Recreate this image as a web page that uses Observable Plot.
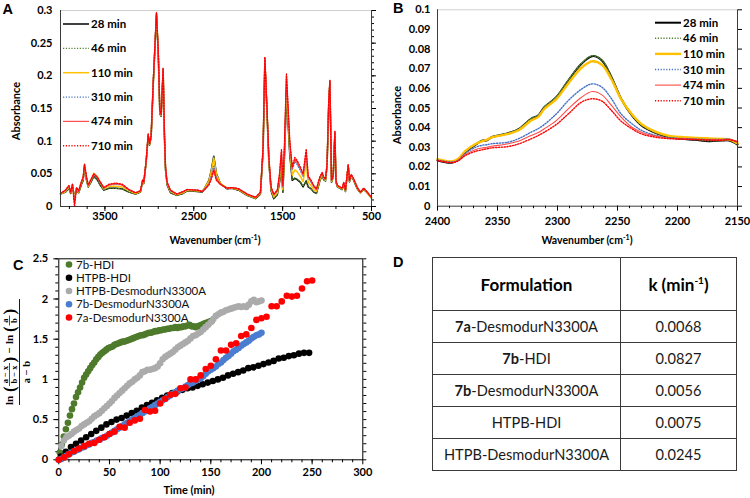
<!DOCTYPE html>
<html>
<head>
<meta charset="utf-8">
<script src="https://cdn.jsdelivr.net/npm/d3@7"></script>
<script src="https://cdn.jsdelivr.net/npm/@observablehq/plot@0.6"></script>
<style>
  body { margin: 0; background: #fff; }
  #fig { position: relative; width: 750px; height: 498px; overflow: hidden; background: #fff; font-family: Lato, sans-serif; }
  .ktab { position: absolute; left: 432px; top: 257px; width: 305px; table-layout: fixed; border-collapse: collapse; font-family: Lato, sans-serif; font-size: 14.6px; color: #1a1a1a; }
  .ktab td { border: 1.5px solid #3a3a3a; text-align: center; padding: 0; height: 31px; }
  .ktab tr.head td { height: 52px; font-weight: bold; font-size: 17px; color: #000; }
  .ktab td:first-child { width: 187px; }
  .ktab sup { font-size: 10px; }
</style>
</head>
<body>
<div id="fig"></div>
<script>
// ---------- FTIR spectra (panels A and B) ----------
const timeLabels = ["28 min", "46 min", "110 min", "310 min", "474 min", "710 min"];
const lineColors = ["#000000", "#548235", "#ffc000", "#4472c4", "#ff4b4b", "#ff0000"];
const lineDash = ["none", "1.2,1.6", "none", "1.2,1.6", "none", "1.2,1.6"];

const wavenumbersA = [4000,3945,3905,3885,3865,3842,3820,3795,3767,3745,
  3730,3707,3688,3662,3625,3587,3550,3513,3455,3380,
  3305,3230,3155,3100,3075,3063,3036,3013,2998,2980,
  2957,2920,2900,2882,2867,2845,2830,2818,2800,2762,
  2690,2620,2575,2460,2405,2370,2330,2305,2275,2245,
  2200,2125,2070,1995,1900,1805,1750,1720,1700,1675,
  1655,1630,1600,1560,1535,1513,1498,1480,1457,1442,
  1420,1392,1363,1336,1300,1270,1235,1212,1180,1150,
  1120,1082,1055,1037,1018,1000,981,968,950,931,
  912,900,882,830,812,793,762,748,728,700,
  660,625,587,548,500];

const absA28 = [.019,.022,.028,.020,.030,.015,.025,.021,.033,.040,
  .060,.040,.030,.036,.046,.041,.032,.025,.028,.028,
  .027,.022,.019,.022,.039,.035,.068,.108,.094,.106,
  .185,.293,.235,.142,.138,.208,.106,.056,.033,.021,
  .017,.020,.024,.023,.022,.030,.040,.054,.077,.050,
  .035,.027,.028,.025,.017,.012,.019,.085,.222,.140,
  .068,.024,.012,.018,.037,.058,.022,.075,.168,.135,
  .080,.040,.043,.041,.037,.030,.039,.030,.027,.022,
  .020,.039,.048,.041,.039,.062,.158,.190,.037,.045,
  .112,.037,.030,.026,.034,.023,.062,.038,.047,.040,
  .027,.021,.026,.021,.013];
const absA46 = [.019,.022,.028,.020,.030,.014,.025,.021,.033,.040,
  .060,.040,.030,.036,.046,.041,.032,.025,.028,.028,
  .027,.022,.019,.022,.039,.035,.068,.108,.094,.106,
  .185,.293,.235,.142,.138,.208,.106,.056,.033,.021,
  .017,.020,.024,.023,.022,.030,.040,.054,.077,.050,
  .035,.027,.028,.025,.017,.012,.019,.085,.222,.140,
  .068,.024,.012,.018,.037,.059,.022,.075,.169,.136,
  .081,.041,.044,.042,.038,.031,.040,.031,.027,.022,
  .020,.039,.048,.041,.039,.062,.158,.190,.037,.045,
  .112,.037,.030,.026,.034,.023,.062,.038,.047,.040,
  .027,.021,.026,.021,.013];
const absA110 = [.019,.023,.030,.021,.032,.012,.027,.022,.035,.042,
  .062,.042,.031,.038,.051,.046,.036,.027,.031,.031,
  .030,.024,.020,.023,.040,.036,.069,.109,.095,.107,
  .186,.295,.237,.144,.139,.210,.108,.058,.035,.023,
  .018,.021,.025,.024,.023,.030,.039,.052,.074,.049,
  .035,.028,.028,.026,.018,.013,.020,.088,.225,.143,
  .071,.027,.015,.021,.042,.070,.026,.081,.182,.146,
  .088,.048,.056,.053,.046,.038,.065,.037,.032,.026,
  .023,.041,.050,.043,.040,.063,.160,.191,.038,.046,
  .113,.038,.031,.027,.035,.024,.063,.039,.048,.041,
  .028,.021,.027,.021,.013];
const absA310 = [.020,.024,.031,.022,.034,.008,.028,.023,.036,.044,
  .064,.044,.032,.039,.049,.044,.036,.028,.033,.034,
  .033,.025,.021,.024,.041,.037,.070,.110,.096,.108,
  .187,.296,.238,.146,.140,.211,.109,.059,.036,.024,
  .019,.022,.026,.025,.023,.028,.035,.045,.062,.043,
  .034,.028,.029,.027,.019,.014,.021,.090,.228,.146,
  .074,.029,.018,.024,.047,.081,.030,.088,.196,.157,
  .097,.056,.069,.064,.055,.046,.078,.044,.037,.030,
  .026,.044,.051,.044,.041,.064,.161,.192,.039,.047,
  .114,.039,.032,.028,.036,.025,.064,.040,.049,.042,
  .029,.022,.028,.022,.014];
const absA474 = [.020,.025,.032,.022,.034,.006,.029,.024,.037,.045,
  .064,.045,.033,.040,.050,.045,.037,.029,.033,.035,
  .033,.026,.021,.024,.041,.037,.070,.111,.096,.108,
  .188,.297,.239,.146,.141,.212,.110,.060,.037,.025,
  .019,.023,.026,.025,.023,.027,.034,.043,.058,.041,
  .034,.028,.029,.027,.019,.014,.022,.090,.228,.146,
  .074,.029,.018,.024,.049,.084,.031,.089,.200,.159,
  .099,.058,.072,.067,.058,.048,.083,.045,.039,.031,
  .026,.044,.052,.045,.042,.065,.162,.193,.040,.048,
  .115,.040,.032,.028,.037,.025,.064,.040,.049,.042,
  .029,.022,.028,.022,.014];
const absA710 = [.020,.025,.032,.022,.035,.000,.029,.024,.037,.045,
  .065,.045,.033,.040,.050,.045,.037,.029,.034,.036,
  .034,.026,.021,.024,.041,.037,.070,.111,.096,.108,
  .188,.297,.239,.147,.141,.212,.110,.060,.037,.025,
  .019,.023,.026,.025,.023,.027,.033,.041,.055,.040,
  .034,.028,.029,.027,.019,.014,.022,.091,.229,.147,
  .075,.030,.019,.025,.050,.087,.032,.091,.203,.162,
  .101,.060,.075,.070,.060,.050,.088,.047,.040,.032,
  .027,.045,.052,.045,.042,.065,.162,.193,.040,.048,
  .115,.040,.032,.028,.037,.025,.064,.040,.049,.042,
  .029,.022,.028,.022,.014];

const wavenumbersB = [2400,2388,2383,2377,2368,2363,2359,2355,2341,2332,
  2322,2316,2311,2301,2291,2280,2271,2263,2255,2247,
  2238,2230,2218,2207,2197,2185,2174,2163,2157,2150];
const absB28 = [.0233,.0221,.0235,.0275,.0314,.0334,.0334,.0351,.0372,.0394,
  .0445,.0462,.0504,.0555,.0640,.0725,.0764,.0742,.0657,.0547,
  .0462,.0411,.0372,.0351,.0343,.0338,.0331,.0334,.0334,.0314];
const absB46 = [.0235,.0223,.0238,.0277,.0316,.0335,.0336,.0352,.0373,.0395,
  .0446,.0464,.0505,.0557,.0642,.0727,.0766,.0744,.0659,.0550,
  .0465,.0413,.0374,.0353,.0345,.0340,.0333,.0335,.0336,.0316];
const absB110 = [.0240,.0228,.0240,.0280,.0318,.0330,.0338,.0350,.0368,.0388,
  .0436,.0455,.0495,.0545,.0625,.0705,.0738,.0720,.0645,.0545,
  .0468,.0418,.0378,.0358,.0352,.0348,.0345,.0342,.0340,.0320];
const absB310 = [.0236,.0225,.0234,.0268,.0301,.0310,.0313,.0318,.0326,.0345,
  .0377,.0395,.0416,.0470,.0538,.0596,.0623,.0606,.0547,.0470,
  .0420,.0386,.0360,.0348,.0345,.0342,.0340,.0340,.0342,.0325];
const absB474 = [.0234,.0222,.0232,.0262,.0289,.0296,.0300,.0305,.0318,.0332,
  .0360,.0375,.0394,.0436,.0496,.0555,.0584,.0567,.0513,.0453,
  .0402,.0377,.0357,.0346,.0343,.0340,.0338,.0338,.0341,.0330];
const absB710 = [.0233,.0222,.0230,.0257,.0280,.0287,.0292,.0297,.0304,.0318,
  .0343,.0360,.0377,.0416,.0470,.0530,.0547,.0535,.0487,.0433,
  .0394,.0368,.0351,.0344,.0342,.0340,.0337,.0336,.0339,.0328];

const absTicksA = [0, 0.05, 0.1, 0.15, 0.2, 0.25, 0.3];
const wnTicksA = [3500, 2500, 1500, 500];
const absTicksB = [0, 0.01, 0.02, 0.03, 0.04, 0.05, 0.06, 0.07, 0.08, 0.09, 0.1];
const wnTicksB = [2400, 2350, 2300, 2250, 2200, 2150];

// ---------- Kinetics (panel C): [time (min), value] ----------
const kineticNames = ["7b-HDI", "HTPB-HDI", "HTPB-DesmodurN3300A", "7b-DesmodurN3300A", "7a-DesmodurN3300A"];
const kineticColors = ["#4e7a2c", "#000000", "#ababab", "#4a7dd0", "#ff0000"];

const kin7bHDI = [[1,.09],[3,.19],[5,.29],[7,.38],[9,.46],[11,.55],[13,.63],[15,.70],[17,.78],[19,.84],
  [21,.90],[23,.96],[25,1.02],[27,1.06],[29,1.10],[31,1.14],[33,1.18],[35,1.21],[37,1.25],[39,1.28],
  [41,1.31],[43,1.33],[45,1.35],[47,1.37],[49,1.39],[51,1.40],[53,1.41],[55,1.43],[57,1.44],[59,1.45],
  [61,1.46],[63,1.47],[65,1.47],[67,1.48],[69,1.49],[71,1.50],[73,1.51],[75,1.52],[77,1.53],[79,1.54],
  [81,1.55],[83,1.55],[85,1.56],[87,1.57],[89,1.58],[91,1.58],[93,1.59],[95,1.60],[97,1.60],[99,1.61],
  [101,1.61],[103,1.62],[105,1.62],[107,1.63],[109,1.63],[111,1.64],[113,1.64],[115,1.65],[117,1.64],[119,1.65],
  [121,1.65],[123,1.66],[125,1.66],[127,1.67],[129,1.68],[131,1.66],[133,1.66],[135,1.65],[137,1.66],[139,1.67],
  [141,1.68],[143,1.69],[145,1.70],[147,1.71],[149,1.72],[151,1.73]];
const kinHTPBHDI = [[2,.04],[7,.10],[12,.16],[17,.20],[22,.24],[27,.28],[32,.32],[37,.36],[42,.40],[47,.44],
  [52,.47],[57,.50],[62,.52],[67,.55],[72,.58],[77,.61],[82,.65],[87,.68],[92,.71],[97,.74],
  [102,.77],[107,.80],[112,.83],[117,.85],[122,.87],[127,.89],[132,.90],[137,.92],[142,.94],[147,.96],
  [152,.98],[157,1.00],[162,1.02],[167,1.05],[172,1.07],[177,1.09],[182,1.11],[187,1.14],[192,1.15],[197,1.17],
  [202,1.19],[207,1.21],[212,1.23],[217,1.26],[222,1.27],[227,1.29],[232,1.30],[237,1.32],[242,1.33],[247,1.33]];
const kinHTPBDes = [[2.5,.17],[5,.24],[7.5,.28],[10,.30],[12.5,.32],[15,.35],[17.5,.37],[20,.39],[22.5,.42],[25,.44],
  [27.5,.46],[30,.48],[32.5,.51],[35,.54],[37.5,.56],[40,.58],[42.5,.61],[45,.64],[47.5,.67],[50,.70],
  [52.5,.73],[55,.77],[57.5,.80],[60,.83],[62.5,.86],[65,.89],[67.5,.92],[70,.95],[72.5,.97],[75,1.00],
  [77.5,1.02],[80,1.05],[82.5,1.09],[85,1.10],[87.5,1.12],[90,1.12],[92.5,1.13],[95,1.14],[97.5,1.16],[100,1.20],
  [102.5,1.25],[105,1.28],[107.5,1.30],[110,1.32],[112.5,1.34],[115,1.37],[117.5,1.40],[120,1.42],[122.5,1.44],[125,1.46],
  [127.5,1.48],[130,1.51],[132.5,1.54],[135,1.55],[137.5,1.57],[140,1.59],[142.5,1.62],[145,1.65],[147.5,1.68],[150,1.71],
  [152.5,1.75],[155,1.79],[157.5,1.81],[160,1.83],[162.5,1.84],[165,1.86],[167.5,1.87],[170,1.88],[172.5,1.89],[175,1.90],
  [177.5,1.91],[180,1.90],[182.5,1.91],[185,1.90],[187.5,1.93],[190,1.97],[192.5,1.99],[195,1.96],[197.5,1.97],[200,1.98]];
const kin7bDes = [[0,.00],[2.5,.01],[5,.03],[7.5,.05],[10,.07],[12.5,.09],[15,.10],[17.5,.12],[20,.13],[22.5,.15],
  [25,.16],[27.5,.18],[30,.19],[32.5,.21],[35,.22],[37.5,.24],[40,.25],[42.5,.27],[45,.28],[47.5,.30],
  [50,.32],[52.5,.34],[55,.36],[57.5,.38],[60,.40],[62.5,.42],[65,.44],[67.5,.46],[70,.48],[72.5,.50],
  [75,.52],[77.5,.54],[80,.56],[82.5,.58],[85,.60],[87.5,.62],[90,.64],[92.5,.66],[95,.68],[97.5,.70],
  [100,.72],[102.5,.74],[105,.76],[107.5,.78],[110,.80],[112.5,.82],[115,.84],[117.5,.86],[120,.88],[122.5,.89],
  [125,.91],[127.5,.93],[130,.95],[132.5,.96],[135,.98],[137.5,1.00],[140,1.01],[142.5,1.04],[145,1.07],[147.5,1.10],
  [150,1.12],[152.5,1.14],[155,1.16],[157.5,1.19],[160,1.21],[162.5,1.24],[165,1.27],[167.5,1.29],[170,1.32],[172.5,1.35],
  [175,1.37],[177.5,1.39],[180,1.42],[182.5,1.44],[185,1.46],[187.5,1.48],[190,1.51],[192.5,1.53],[195,1.55],[197.5,1.56],
  [200,1.58]];
const kin7aDes = [[0,.00],[5,.03],[10,.07],[15,.11],[20,.14],[25,.17],[30,.20],[35,.21],[40,.25],[45,.28],
  [50,.32],[55,.35],[60,.41],[65,.40],[70,.46],[75,.49],[80,.51],[85,.62],[90,.60],[95,.61],
  [100,.70],[105,.76],[110,.81],[115,.82],[120,.89],[125,.90],[130,1.00],[135,1.00],[140,1.05],[145,1.13],
  [150,1.17],[155,1.25],[160,1.36],[165,1.36],[170,1.43],[175,1.45],[180,1.54],[185,1.56],[190,1.64],[195,1.74],
  [200,1.76],[205,1.78],[210,1.91],[215,1.91],[220,1.97],[225,2.04],[230,2.03],[235,2.04],[240,2.13],[245,2.22],
  [250,2.23]];
const kineticSeries = [kin7bHDI, kinHTPBHDI, kinHTPBDes, kin7bDes, kin7aDes];
const timeTicks = [0, 50, 100, 150, 200, 250, 300];
const valueTicks = [0, 0.5, 1, 1.5, 2, 2.5];

// ---------- Rate constants (panel D) ----------
const formulations = ["7a-DesmodurN3300A", "7b-HDI", "7b-DesmodurN3300A", "HTPB-HDI", "HTPB-DesmodurN3300A"];
const boldPrefix = ["7a", "7b", "7b", "", ""];
const rateConstants = [0.0068, 0.0827, 0.0056, 0.0075, 0.0245];

// ---------- drawing ----------
const fig = document.getElementById("fig");
const place = (el, left, top) => {
  el.style.position = "absolute";
  el.style.left = left + "px";
  el.style.top = top + "px";
  fig.appendChild(el);
  return el;
};
const baseStyle = {fontFamily: "Lato, sans-serif", fontSize: "11px", fontWeight: "bold", color: "#000",
  background: "transparent", overflow: "visible", maxWidth: "none"};
const noText = () => "";
const fmtG = d3.format("~g");
const axisDark = "#3c3c3c";
const spec = (wn, vals) => wn.map((w, j) => ({w, a: vals[j]}));

// Panel A: full spectrum
const seriesA = [absA28, absA46, absA110, absA310, absA474, absA710];
const widthsA = [1.5, 1.2, 1.5, 1.2, 1.2, 1.4];
const plotA = Plot.plot({
  width: 385, height: 250,
  marginLeft: 60, marginRight: 14, marginTop: 10, marginBottom: 44,
  x: {domain: [4000, 500]},
  y: {domain: [0, 0.3]},
  style: baseStyle,
  marks: [
    Plot.ruleY([0.3], {stroke: "#cfcfcf"}),
    ...seriesA.map((vals, i) => Plot.line(spec(wavenumbersA, vals), {
      x: "w", y: "a", stroke: lineColors[i], strokeWidth: widthsA[i], strokeDasharray: lineDash[i]})),
    Plot.ruleX([4000], {stroke: axisDark}),
    Plot.ruleX([500], {stroke: axisDark}),
    Plot.ruleY([0], {stroke: axisDark}),
    Plot.axisY({ticks: absTicksA, tickSize: 0, tickPadding: 8, tickFormat: fmtG, label: null}),
    Plot.axisY({anchor: "right", ticks: absTicksA, tickSize: 4, tickFormat: noText, label: null}),
    Plot.axisY({anchor: "right", ticks: d3.range(0, 0.3001, 0.01), tickSize: 2, tickFormat: noText, label: null}),
    Plot.axisX({ticks: wnTicksA, tickSize: 0, tickPadding: 5.7, tickFormat: d3.format("d"), label: null}),
    Plot.axisX({ticks: wnTicksA, tickSize: 5, tickFormat: noText, label: null}),
    Plot.axisX({ticks: d3.range(700, 4000, 200), tickSize: 3, tickFormat: noText, label: null})
  ]
});
place(plotA, 0, 0);

// Panel B: isocyanate band
const seriesB = [absB28, absB46, absB110, absB310, absB474, absB710];
const widthsB = [2, 1.4, 2.4, 1.4, 1.1, 1.4];
const plotB = Plot.plot({
  width: 375, height: 250,
  marginLeft: 62, marginRight: 13, marginTop: 9.3, marginBottom: 44.3,
  x: {domain: [2400, 2150]},
  y: {domain: [0, 0.1]},
  style: baseStyle,
  marks: [
    Plot.ruleY([0.1], {stroke: "#cfcfcf"}),
    ...seriesB.map((vals, i) => Plot.line(spec(wavenumbersB, vals), {
      x: "w", y: "a", stroke: lineColors[i], strokeWidth: widthsB[i], strokeDasharray: lineDash[i], curve: "catmull-rom"})),
    Plot.ruleX([2400], {stroke: axisDark}),
    Plot.ruleX([2150], {stroke: axisDark}),
    Plot.ruleY([0], {stroke: axisDark}),
    Plot.axisY({ticks: absTicksB, tickSize: 0, tickPadding: 7, tickFormat: fmtG, label: null}),
    Plot.axisY({anchor: "right", ticks: absTicksB, tickSize: 4, tickFormat: noText, label: null}),
    Plot.axisX({ticks: wnTicksB, tickSize: 0, tickPadding: 11, tickFormat: d3.format("d"), label: null}),
    Plot.axisX({ticks: wnTicksB, tickSize: 5, tickFormat: noText, label: null}),
    Plot.axisX({ticks: d3.range(2160, 2400, 10), tickSize: 2.5, tickFormat: noText, label: null})
  ]
});
place(plotB, 375, 0);

// spectrum legends
const drawSpecLegend = (svg, x0, x1, top, step, widths) => {
  const g = d3.select(svg).append("g").attr("font-family", "Lato, sans-serif")
    .attr("font-size", 11.5).attr("font-weight", "bold").attr("text-anchor", "start");
  timeLabels.forEach((lab, i) => {
    const y = top + i * step;
    g.append("line").attr("x1", x0).attr("x2", x1).attr("y1", y).attr("y2", y)
      .attr("stroke", lineColors[i]).attr("stroke-width", widths[i]).attr("stroke-dasharray", lineDash[i]);
    g.append("text").attr("x", x1 + 2).attr("y", y).attr("dy", "0.35em")
      .attr("text-anchor", "start").attr("fill", "#000").text(lab);
  });
};
drawSpecLegend(plotA, 63, 89, 24, 24.35, widthsA);
drawSpecLegend(plotB, 280, 306, 22.7, 15.6, widthsB);

// Panel C: second-order kinetics
const plotC = Plot.plot({
  width: 375, height: 248,
  marginLeft: 58.3, marginRight: 12.7, marginTop: 8.3, marginBottom: 38.7,
  x: {domain: [0, 300]},
  y: {domain: [0, 2.5]},
  style: baseStyle,
  marks: [
    Plot.frame({stroke: "#000"}),
    Plot.axisY({ticks: valueTicks, tickSize: 0, tickPadding: 10.6, tickFormat: fmtG, label: null}),
    Plot.axisY({ticks: valueTicks, tickSize: 5, tickFormat: noText, label: null}),
    Plot.axisY({ticks: d3.range(0, 2.501, 0.1), tickSize: 3, tickFormat: noText, label: null}),
    Plot.axisY({anchor: "right", ticks: d3.range(0, 2.501, 0.1), tickSize: 3, tickFormat: noText, label: null}),
    Plot.axisX({ticks: timeTicks, tickSize: 0, tickPadding: 8.7, tickFormat: fmtG, label: null}),
    Plot.axisX({ticks: timeTicks, tickSize: 5, tickFormat: noText, label: null}),
    Plot.axisX({ticks: d3.range(10, 300, 10), tickSize: 3, tickFormat: noText, label: null}),
    ...kineticSeries.map((pts, i) => Plot.dot(pts, {x: d => d[0], y: d => d[1], r: 3.3, fill: kineticColors[i], stroke: "none"}))
  ]
});
place(plotC, 0, 250);

const legC = d3.select(plotC).append("g").attr("font-family", "Lato, sans-serif")
  .attr("font-size", 11.5).attr("font-weight", "normal").attr("text-anchor", "start");
kineticNames.forEach((name, i) => {
  const y = 14.5 + i * 13.25;
  legC.append("circle").attr("cx", 69).attr("cy", y).attr("r", 3.3).attr("fill", kineticColors[i]);
  legC.append("text").attr("x", 76).attr("y", y).attr("dy", "0.35em")
    .attr("text-anchor", "start").attr("fill", "#111").text(name);
});

// Panel D: rate constant table
const table = d3.select(fig).append("table").attr("class", "ktab");
const head = table.append("tr").attr("class", "head");
head.append("td").text("Formulation");
head.append("td").html("k (min<sup>-1</sup>)");
formulations.forEach((f, i) => {
  const tr = table.append("tr");
  const td = tr.append("td");
  if (boldPrefix[i]) {
    td.append("b").text(boldPrefix[i]);
    td.append("span").text(f.slice(boldPrefix[i].length));
  } else {
    td.text(f);
  }
  tr.append("td").text(rateConstants[i].toFixed(4));
});

// Panel letters and axis titles
const over = d3.create("svg").attr("width", 750).attr("height", 498)
  .style("position", "absolute").style("left", "0px").style("top", "0px").style("pointer-events", "none");
const letters = [["A", 2.5, 13.5], ["B", 393, 13.2], ["C", 13, 270], ["D", 393, 267]];
letters.forEach(([t, x, y]) => over.append("text").attr("x", x).attr("y", y)
  .attr("font-family", "'Liberation Sans', Arial, sans-serif").attr("font-weight", "bold").attr("font-size", 14.5).text(t));

const titleFont = sel => sel.attr("font-family", "Lato, sans-serif").attr("font-weight", "bold").attr("fill", "#000");
const yTitle = (x, y) => titleFont(over.append("text")).attr("transform", `translate(${x},${y}) rotate(-90)`)
  .attr("text-anchor", "middle").attr("dy", "0.35em").attr("font-size", 11).text("Absorbance");
yTitle(16.5, 111);
yTitle(397.5, 115);

const wnTitle = (cx) => {
  const t = titleFont(over.append("text")).attr("x", cx).attr("y", 244).attr("text-anchor", "middle").attr("font-size", 10.5);
  t.append("tspan").text("Wavenumber (cm");
  t.append("tspan").attr("font-size", 7).attr("dy", -4).text("-1");
  t.append("tspan").attr("dy", 4).text(")");
};
wnTitle(215);
wnTitle(587);
titleFont(over.append("text")).attr("x", 189).attr("y", 494).attr("text-anchor", "middle").attr("font-size", 11).text("Time (min)");

// y title of panel C: [ln((a−x)/(b−x)) − ln(a/b)] / (a − b)
const fr = over.append("g").attr("transform", "translate(19.5,352) rotate(-90)")
  .attr("font-family", "'Liberation Serif', 'Times New Roman', serif").attr("font-weight", "bold").attr("fill", "#000");
const ft = (x, y, txt, size, anchor = "start") => fr.append("text").attr("x", x).attr("y", y)
  .attr("font-size", size).attr("text-anchor", anchor).text(txt);
const fl = (x1, x2, y, w) => fr.append("line").attr("x1", x1).attr("x2", x2).attr("y1", y).attr("y2", y)
  .attr("stroke", "#000").attr("stroke-width", w);
fl(-53, 53, 0, 0.9);
ft(-53, -6.5, "ln", 11);
ft(-40, -4.5, "(", 17);
fl(-34, -11, -10, 0.7);
ft(-22.5, -12, "a − x", 8.5, "middle");
ft(-22.5, -2.5, "b − x", 8.5, "middle");
ft(-10.5, -4.5, ")", 17);
ft(1.5, -6.5, "−", 11, "middle");
ft(8, -6.5, "ln", 11);
ft(20, -4.5, "(", 17);
fl(26.5, 36.5, -10, 0.7);
ft(31.5, -12, "a", 8.5, "middle");
ft(31.5, -2.5, "b", 8.5, "middle");
ft(37.5, -4.5, ")", 17);
ft(-20, 10.5, "a − b", 10.5, "middle");

fig.appendChild(over.node());
</script>
</body>
</html>
